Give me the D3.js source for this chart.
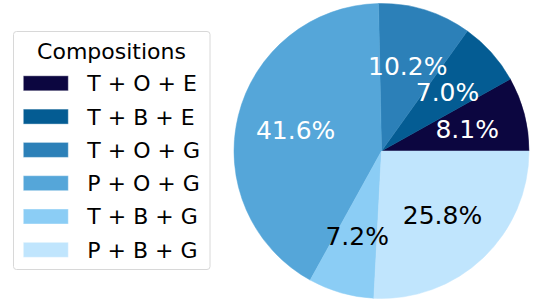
<!DOCTYPE html>
<html><head><meta charset="utf-8">
<script src="https://cdn.jsdelivr.net/npm/d3@7"></script>
<style>body{margin:0;background:#fff}</style>
</head><body>
<svg id="c" width="539" height="307"></svg>
<script>
const categories = ["T + O + E","T + B + E","T + O + G","P + O + G","T + B + G","P + B + G"];
const values = [8.1, 7.0, 10.2, 41.6, 7.2, 25.8];
const colors = ["#0c0640","#045c93","#2c80b8","#55a6d9","#8bcdf5","#c0e5fd"];
const labelColors = ["#fff","#fff","#fff","#fff","#000","#000"];
const legendTitle = "Compositions";

const svg = d3.select("#c");
const font = "DejaVu Sans, sans-serif";
const cx = 381.5, cy = 151, r = 147.5;
const pie = d3.pie().sort(null).value(d => d).startAngle(Math.PI/2).endAngle(Math.PI/2 - 2*Math.PI);
const arcs = pie(values);
const arc = d3.arc().innerRadius(0).outerRadius(r);
const labelArc = d3.arc().innerRadius(r*0.6).outerRadius(r*0.6);
const g = svg.append("g").attr("transform", `translate(${cx},${cy})`);
g.selectAll("path").data(arcs).join("path")
  .attr("d", arc).attr("fill", (d,i) => colors[i])
  .attr("stroke", (d,i)=>colors[i]).attr("stroke-width", 0.5);
g.selectAll("text").data(arcs).join("text")
  .attr("transform", d => `translate(${labelArc.centroid(d)})`)
  .attr("text-anchor","middle").attr("dy","0.36em")
  .attr("font-family", font).attr("font-size", 25)
  .attr("fill", (d,i) => labelColors[i])
  .text(d => d.data.toFixed(1) + "%");

const lg = svg.append("g");
lg.append("rect").attr("x",13.5).attr("y",31.5).attr("width",196.5).attr("height",238)
  .attr("rx",3).attr("fill","#fff").attr("stroke","#d8d8d8").attr("stroke-width",1);
lg.append("text").attr("x",111.5).attr("y",50.7).attr("dy","0.36em").attr("text-anchor","middle")
  .attr("font-family",font).attr("font-size",22).attr("fill","#000").text(legendTitle);
const rowY = d3.scaleLinear().domain([0,1]).range([83.3,116.6]);
categories.forEach((c,i) => {
  const y = rowY(i);
  lg.append("rect").attr("x",23.3).attr("y",y-7.5).attr("width",45).attr("height",15)
    .attr("fill",colors[i]).attr("stroke","#ffffff").attr("stroke-opacity",0.4).attr("stroke-width",1);
  lg.append("text").attr("x",87.3).attr("y",y).attr("dy","0.36em")
    .attr("font-family",font).attr("font-size",22).attr("fill","#000").text(c);
});
</script>
</body></html>
